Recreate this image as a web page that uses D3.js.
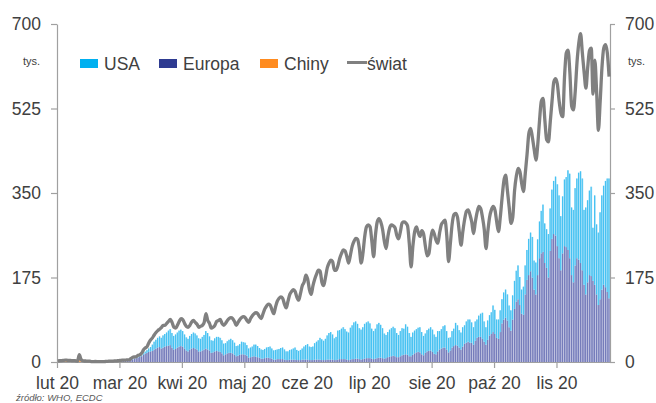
<!DOCTYPE html>
<html><head><meta charset="utf-8">
<script src="https://cdn.jsdelivr.net/npm/d3@7"></script>
<style>body{margin:0;background:#fff}svg{display:block}text{font-family:"Liberation Sans",Arial,sans-serif}</style>
</head><body><svg id="c" width="656" height="403"></svg>
<script>
// categories: daily, 2020-02-01 .. 2020-12-06
const categories = d3.timeDay.range(new Date(2020,1,1), new Date(2020,11,7));
const tickIndex = [0,35,70,105,140,175,210,245,280];
const tickLabels = ["lut 20","mar 20","kwi 20","maj 20","cze 20","lip 20","sie 20","paź 20","lis 20"];
const yTicks = [0,175,350,525,700];
const legendLabels = ["USA","Europa","Chiny","świat"];

// tys. daily new cases
const world = [
2.1,2.6,2.8,3.2,3.7,3.7,3.2,3.4,2.7,3.0,2.5,2.0,15.2,5.1,2.6,2.1,2.0,1.9,1.8,0.6,0.9,1.0,0.9,0.6,0.6,0.9,0.9,1.2,1.4,
1.8,2.0,1.9,2.3,2.5,2.7,3.2,3.8,3.9,4.0,4.4,4.6,7.4,9.7,10.5,11.0,13.9,15.0,18.6,25.3,29.0,32.0,40.0,46.0,50.0,56.0,61.0,65.0,68.0,71.0,76.0,
76,80,84,88,82,72,70,76,84,90,88,80,74,72,76,83,86,82,78,72,74,76,82,100,86,80,70,72,76,84,
86,88,80,76,80,86,90,92,90,84,76,82,88,92,94,92,86,82,90,96,100,102,100,94,90,100,110,116,120,118,108,
100,114,126,132,135,132,120,112,126,140,146,150,146,134,128,142,158,165,180,172,150,140,158,172,182,190,188,165,158,175,
195,205,211,208,190,190,200,215,225,232,230,218,205,222,240,250,256,254,235,205,225,260,280,284,280,250,218,262,290,297,290,
275,250,235,260,278,284,282,278,262,255,270,288,290,288,282,245,197,240,270,280,268,260,272,265,240,220,225,255,273,265,252,
246,268,285,290,294,262,208,245,285,305,308,300,270,242,270,295,312,315,305,290,266,290,310,322,318,300,275,235,270,300,
315,322,315,290,270,300,340,375,387,355,320,287,300,355,385,401,394,370,353,390,430,473,484,465,440,418,450,500,540,546,500,
460,456,497,540,580,587,575,540,515,508,590,640,646,600,530,522,560,620,660,680,640,600,567,610,645,650,555,625,560,480,
540,610,650,657,640,591];

const europe = [
0,0,0,0,0,0,0,0,0,0,0,0,0,0,0,0,0,0,0,0,0,0.05,0.1,0.1,0.1,0.1,0.2,0.2,0.3,
0.4,0.6,0.7,0.9,1.0,1.4,1.6,2.0,2.3,2.5,2.9,3.6,4.2,5.5,7.0,8.0,9.0,10.5,12.0,15.0,17.5,19.0,21.0,22.0,23.0,26.0,28.0,30.0,31.0,28.0,30.0,
32,33,34,35,30,26,27,30,32,33,32,28,24,22,26,28,29,28,26,22,22,24,26,28,26,24,19,20,22,23,
22,21,18,14,16,18,19,19,18,15,12,13,15,16,16,15,13,9,10,11,12,11,10,9,7,7,8,9,9,8,7,
5,5,6,6,6,6,5,4,4,5,5,5,5,4,4,4,5,5,5,5,4,4,4,5,5,5,5,4,4,4,
5,5,5,5,4,4,5,6,6,6,6,5,4,5,6,6,7,7,6,5,6,7,8,8,8,7,6,7,8,9,9,
8,7,8,10,11,12,13,12,10,10,12,14,15,16,15,12,12,15,18,20,21,20,16,14,19,22,23,24,21,17,16,
22,26,28,30,30,26,20,24,30,33,35,34,30,26,32,38,40,42,40,40,36,44,50,52,52,48,42,36,46,55,
58,62,58,50,48,62,80,88,92,86,72,65,88,110,125,130,118,100,98,140,170,180,188,175,150,140,180,215,225,228,205,
195,175,230,255,265,262,240,215,190,225,240,238,232,215,180,165,200,215,212,205,190,160,140,165,180,178,168,160,140,118,
130,150,160,155,145,132];

const usa = [
0,0,0,0,0,0,0,0,0,0,0,0,0,0,0,0,0,0,0,0,0,0,0,0,0,0,0,0,0,
0,0,0,0,0,0.1,0.1,0.1,0.2,0.2,0.3,0.3,0.4,0.5,0.6,0.8,1.0,1.2,1.8,2.5,4.0,5.5,7.0,9.0,13,16,18,20,22,22,25,
26,28,31,33,30,28,30,31,33,34,32,29,27,26,28,30,32,31,29,27,26,28,30,36,34,29,26,24,27,29,
30,29,27,24,23,25,27,29,27,25,21,21,22,26,25,25,22,19,20,21,24,25,23,20,19,18,19,21,22,24,21,
19,20,20,21,23,24,21,18,18,20,21,23,25,21,19,21,23,27,30,32,28,27,28,34,37,40,45,43,40,44,
50,55,57,52,45,48,60,60,63,66,62,58,57,66,70,76,77,72,64,62,66,72,74,76,72,62,58,62,70,72,68,
62,52,48,52,56,58,60,58,50,46,52,56,54,62,58,48,40,46,47,48,50,52,46,40,40,44,46,48,46,40,36,
42,38,40,44,46,38,30,27,34,36,46,42,36,35,40,38,44,46,48,42,36,40,38,44,48,54,42,36,40,42,
45,55,50,38,40,45,50,56,58,54,45,42,50,58,64,70,58,50,58,60,62,75,80,84,60,66,74,76,88,98,82,
80,90,88,102,110,122,128,130,112,118,138,145,165,175,140,150,160,165,180,190,190,155,180,170,175,185,110,185,145,150,
180,195,205,220,235,248];

const china = [
2.1,2.6,2.8,3.2,3.7,3.7,3.1,3.4,2.7,3.0,2.5,2.0,15.1,5.0,2.6,2.1,2.0,1.9,1.7,0.4,0.9,0.4,0.6,0.4,0.5,0.4,0.4,0.3,0.4,
0.6,0.2,0.1,0.1,0.1,0.1,0.1,0.1,0,0,0,0,0,0,0,0,0,0,0,0,0.1,0.1,0.1,0.1,0.1,0.1,0.1,0.1,0.1,0.1,0.1,
0,0,0,0,0,0,0,0,0,0,0,0,0,0,0,0,0,0,0,0,0,0,0,0,0,0,0,0,0,0,
0,0,0,0,0,0,0,0,0,0,0,0,0,0,0,0,0,0,0,0,0,0,0,0,0,0,0,0,0,0,0,
0,0,0,0,0,0,0,0,0,0,0,0,0,0,0,0,0,0,0,0,0,0,0,0,0,0,0,0,0,0,
0,0,0,0,0,0,0,0,0,0,0,0,0,0,0,0,0,0,0,0,0,0,0,0,0,0,0,0,0,0,0,
0,0,0,0,0,0,0,0,0,0,0,0,0,0,0,0,0,0,0,0,0,0,0,0,0,0,0,0,0,0,0,
0,0,0,0,0,0,0,0,0,0,0,0,0,0,0,0,0,0,0,0,0,0,0,0,0,0,0,0,0,0,
0,0,0,0,0,0,0,0,0,0,0,0,0,0,0,0,0,0,0,0,0,0,0,0,0,0,0,0,0,0,0,
0,0,0,0,0,0,0,0,0,0,0,0,0,0,0,0,0,0,0,0,0,0,0,0,0,0,0,0,0,0,
0,0,0,0,0,0];

const N = world.length;
const svg = d3.select("#c");
const L = 57, R = 610, T = 24, B = 362;
const x = d3.scaleBand().domain(d3.range(N)).range([L, R]).padding(0);
const xLin = d3.scaleLinear().domain([0, N]).range([L, R]);
const y = d3.scaleLinear().domain([0, 700]).range([B, T]);
const bw = x.bandwidth();
const txt = "#404040", axisCol = "#A0A0A0";

const rows = d3.range(N).map(i => ({i, europe: europe[i], usa: usa[i], china: china[i]}));
const stack = d3.stack().keys(["europe","usa","china"])(rows);
const light = {europe:"#B0B3D8", usa:"#95DBF7", china:"#FFC58F"};
const dark = {europe:"#5962AD", usa:"#22B6EF", china:"#FF8B1F"};

const gBars = svg.append("g");
stack.forEach(layer => {
  const g = gBars.append("g");
  g.selectAll("rect.l").data(layer).join("rect").attr("class","l")
    .attr("x", d => x(d.data.i)).attr("width", bw)
    .attr("y", d => y(d[1])).attr("height", d => Math.max(0, y(d[0]) - y(d[1])))
    .attr("fill", light[layer.key]);
  g.selectAll("rect.d").data(layer).join("rect").attr("class","d")
    .attr("x", d => x(d.data.i) + bw*0.2).attr("width", bw*0.38)
    .attr("y", d => y(d[1])).attr("height", d => Math.max(0, y(d[0]) - y(d[1])))
    .attr("fill", dark[layer.key]);
});

function styleAxis(g){
  g.selectAll(".domain").attr("stroke", axisCol).attr("stroke-width",1.2);
  g.selectAll(".tick line").attr("stroke", axisCol).attr("stroke-width",1.2);
  g.selectAll(".tick text").attr("fill", txt).attr("font-size", "17.5px")
    .attr("font-family", '"Liberation Sans",Arial,sans-serif');
}
const gx = svg.append("g").attr("transform", `translate(0,${B})`)
  .call(d3.axisBottom(xLin).tickValues(tickIndex).tickFormat((d,i)=>tickLabels[i]).tickSize(6).tickPadding(9).tickSizeOuter(0));
styleAxis(gx);
const gl = svg.append("g").attr("transform", `translate(${L},0)`)
  .call(d3.axisLeft(y).tickValues(yTicks).tickSize(6).tickPadding(10).tickSizeOuter(0));
styleAxis(gl);
const gr = svg.append("g").attr("transform", `translate(${R},0)`)
  .call(d3.axisRight(y).tickValues(yTicks).tickSize(5).tickPadding(10).tickSizeOuter(0));
styleAxis(gr);

svg.append("text").attr("x",40).attr("y",65).attr("text-anchor","end").attr("font-size","11px").attr("fill",txt).text("tys.");
svg.append("text").attr("x",628).attr("y",65).attr("font-size","11px").attr("fill",txt).text("tys.");

const line = d3.line().x((d,i)=>x(i)+bw/2).y(d=>y(d)).curve(d3.curveMonotoneX);
svg.append("path").datum(world).attr("d", line).attr("fill","none")
  .attr("stroke","#808080").attr("stroke-width",3.3).attr("stroke-linejoin","round");

// legend
const lg = svg.append("g");
const sw = [{x:80,c:"#00B0F0"},{x:159,c:"#2E3B91"},{x:260,c:"#FF8B1F"}];
sw.forEach((s,k)=>{
  lg.append("rect").attr("x",s.x).attr("y",59).attr("width",18).attr("height",9).attr("fill",s.c);
  lg.append("text").attr("x",s.x+24).attr("y",69.5).attr("font-size","17.5px").attr("fill",txt).text(legendLabels[k]);
});
lg.append("line").attr("x1",347).attr("x2",367).attr("y1",62.5).attr("y2",62.5).attr("stroke","#808080").attr("stroke-width",3);
lg.append("text").attr("x",367).attr("y",69.5).attr("font-size","17.5px").attr("fill",txt).text(legendLabels[3]);

svg.append("text").attr("x",16).attr("y",401).attr("font-size","9.5px").attr("font-style","italic").attr("fill","#595959").text("źródło: WHO, ECDC");
</script></body></html>
